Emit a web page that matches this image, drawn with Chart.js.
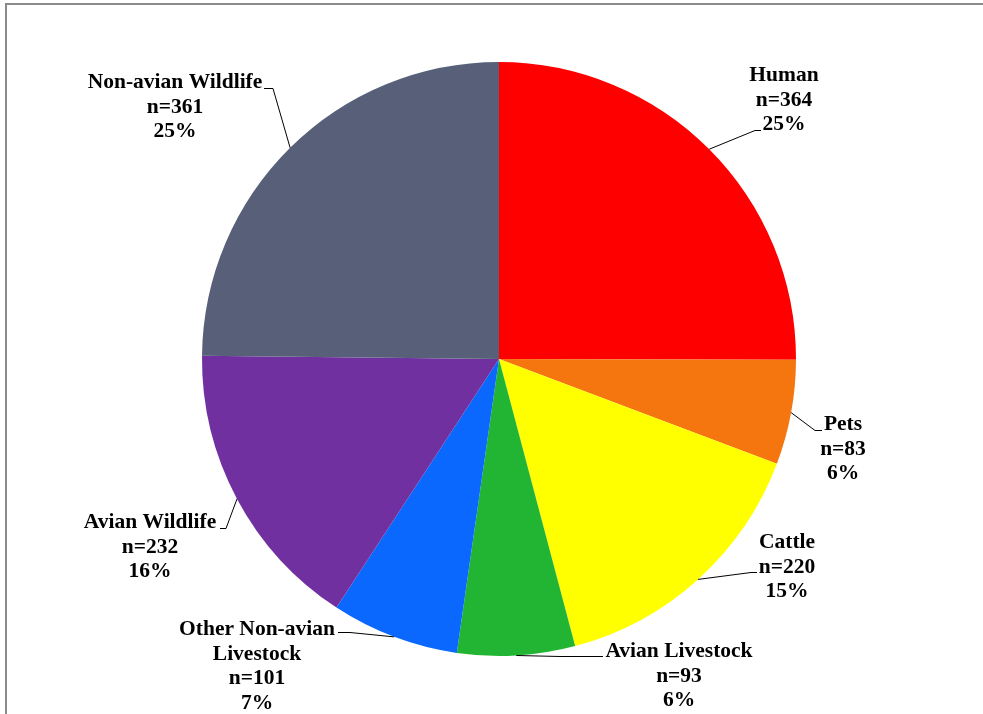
<!DOCTYPE html>
<html>
<head>
<meta charset="utf-8">
<script src="https://cdn.jsdelivr.net/npm/chart.js@4.4.1/dist/chart.umd.min.js"></script>
<style>
  html, body { margin: 0; padding: 0; background: #fff; }
  #wrap { width: 983px; height: 714px; position: relative; }
</style>
</head>
<body>
<div id="wrap"><canvas id="myChart" width="983" height="714"></canvas></div>
<script>
// chart data
var categories = ["Human", "Pets", "Cattle", "Avian Livestock", "Other Non-avian Livestock", "Avian Wildlife", "Non-avian Wildlife"];
var counts = [364, 83, 220, 93, 101, 232, 361];
var percents = ["25%", "6%", "15%", "6%", "7%", "16%", "25%"];
var labelLines = [
  ["Human"], ["Pets"], ["Cattle"], ["Avian Livestock"],
  ["Other Non-avian", "Livestock"], ["Avian Wildlife"], ["Non-avian Wildlife"]
];
var sliceColors = ['#ff0000', '#f5760f', '#ffff00', '#22b534', '#0a68ff', '#7030a0', '#576078'];

// where each label block sits (centre x, first baseline) and the leader elbow / end
var labelAt = [[784, 81], [843, 430], [787, 548], [679, 657], [257, 635], [150, 528], [175, 88]];
var leaderElbow = [[755, 130], [815, 430], [751, 572], [560, 656], [350, 632], [226, 528], [273, 88]];
var leaderEnd = [[761, 130], [822, 430], [757, 572], [603, 656], [338, 632], [220, 528], [264, 88]];

var calloutPlugin = {
  id: 'callouts',
  afterDraw: function(chart) {
    var c = chart.ctx;
    // frame
    c.save();
    c.strokeStyle = '#8a8a8a';
    c.lineWidth = 2;
    c.beginPath();
    c.moveTo(6, 714);
    c.lineTo(6, 4);
    c.lineTo(983, 4);
    c.stroke();
    c.restore();

    var meta = chart.getDatasetMeta(0);
    c.save();
    c.font = 'bold 21.5px "Liberation Serif", "Times New Roman", serif';
    c.textAlign = 'center';
    c.textBaseline = 'alphabetic';
    c.fillStyle = '#000';
    for (var i = 0; i < meta.data.length; i++) {
      var arc = meta.data[i];
      var mid = (arc.startAngle + arc.endAngle) / 2;
      var px = arc.x + Math.cos(mid) * arc.outerRadius;
      var py = arc.y + Math.sin(mid) * arc.outerRadius;
      c.strokeStyle = '#000';
      c.lineWidth = 1;
      c.beginPath();
      c.moveTo(px, py);
      c.lineTo(leaderElbow[i][0], leaderElbow[i][1] + 0.5);
      c.lineTo(leaderEnd[i][0], leaderEnd[i][1] + 0.5);
      c.stroke();

      var lines = labelLines[i].concat(["n=" + counts[i], percents[i]]);
      for (var j = 0; j < lines.length; j++) {
        c.fillText(lines[j], labelAt[i][0], labelAt[i][1] + j * 24.5);
      }
    }
    c.restore();
  }
};

var ctx = document.getElementById("myChart");
var myPieChart = new Chart(ctx, {
  type: 'pie',
  data: {
    labels: categories,
    datasets: [{
      data: counts,
      backgroundColor: sliceColors,
      borderWidth: 0
    }]
  },
  options: {
    responsive: false,
    animation: false,
    layout: { padding: { left: 202, right: 187, top: 62, bottom: 58 } },
    plugins: {
      legend: { display: false },
      tooltip: { enabled: false }
    }
  },
  plugins: [calloutPlugin]
});
</script>
</body>
</html>
